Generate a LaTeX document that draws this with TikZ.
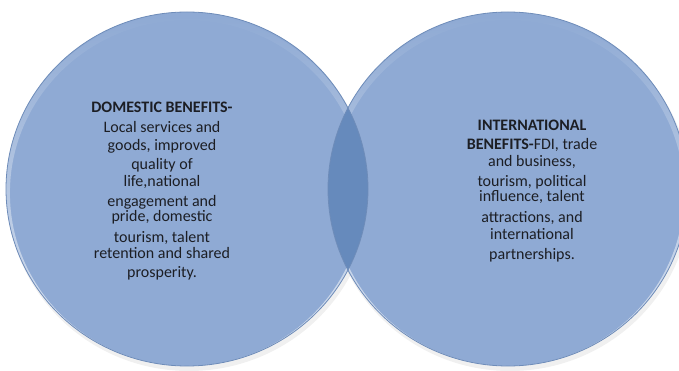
\documentclass[tikz,border=0pt]{standalone}
\usepackage{fontspec}
\setmainfont{Carlito}
\usetikzlibrary{fadings}
\definecolor{bodyblue}{RGB}{143,170,212}
\definecolor{lensblue}{RGB}{102,138,188}
\definecolor{rimblue}{RGB}{110,140,185}
\definecolor{txt}{RGB}{28,30,36}
\tikzset{
  circfill/.style={fill=bodyblue},
  rim/.style={draw=rimblue, line width=0.8pt},
  gloss/.style={white, line width=6pt, path fading=north, opacity=0.7},
  blurb/.style={align=center, text=txt, font=\fontsize{16}{16}\selectfont, inner sep=0pt}
}
\begin{document}
\begin{tikzpicture}[x=1pt,y=-1pt]
\useasboundingbox (0,0) rectangle (679,371);
% soft shadows
\fill[black,opacity=0.06] (189,193) ellipse [x radius=182pt, y radius=178pt];
\fill[black,opacity=0.06] (510,193) ellipse [x radius=181pt, y radius=178pt];
% circles
\fill[circfill] (187,189) ellipse [x radius=181pt, y radius=177pt];
\fill[circfill] (508,189) ellipse [x radius=180pt, y radius=177pt];
% top highlights
\begin{scope}
  \clip (187,189) ellipse [x radius=181pt, y radius=177pt];
  \draw[gloss] (187,193) ellipse [x radius=180pt, y radius=176pt];
\end{scope}
\begin{scope}
  \clip (508,189) ellipse [x radius=180pt, y radius=177pt];
  \draw[gloss] (508,193) ellipse [x radius=179pt, y radius=176pt];
\end{scope}
% lens
\begin{scope}
  \clip (187,189) ellipse [x radius=181pt, y radius=177pt];
  \fill[lensblue] (508,189) ellipse [x radius=180pt, y radius=177pt];
\end{scope}
% rims
\draw[rim] (187,189) ellipse [x radius=181pt, y radius=177pt];
\draw[rim] (508,189) ellipse [x radius=180pt, y radius=177pt];
% texts
\node[blurb] (dom) at (162,191) {\textbf{DOMESTIC BENEFITS-}\\[4pt]Local services and\\[2pt]goods, improved\\[3pt]quality of\\[1pt]life,national\\[4pt]engagement and\\[-1pt]pride, domestic\\[5pt]tourism, talent\\[0pt]retention and shared\\[3pt]prosperity.};
\node[blurb] (int) at (532,191) {\textbf{INTERNATIONAL}\\[3pt]\textbf{BENEFITS-}FDI, trade\\[1pt]and business,\\[4pt]tourism, political\\[-1pt]influence, talent\\[5pt]attractions, and\\[1pt]international\\[4pt]partnerships.};
\end{tikzpicture}
\end{document}
